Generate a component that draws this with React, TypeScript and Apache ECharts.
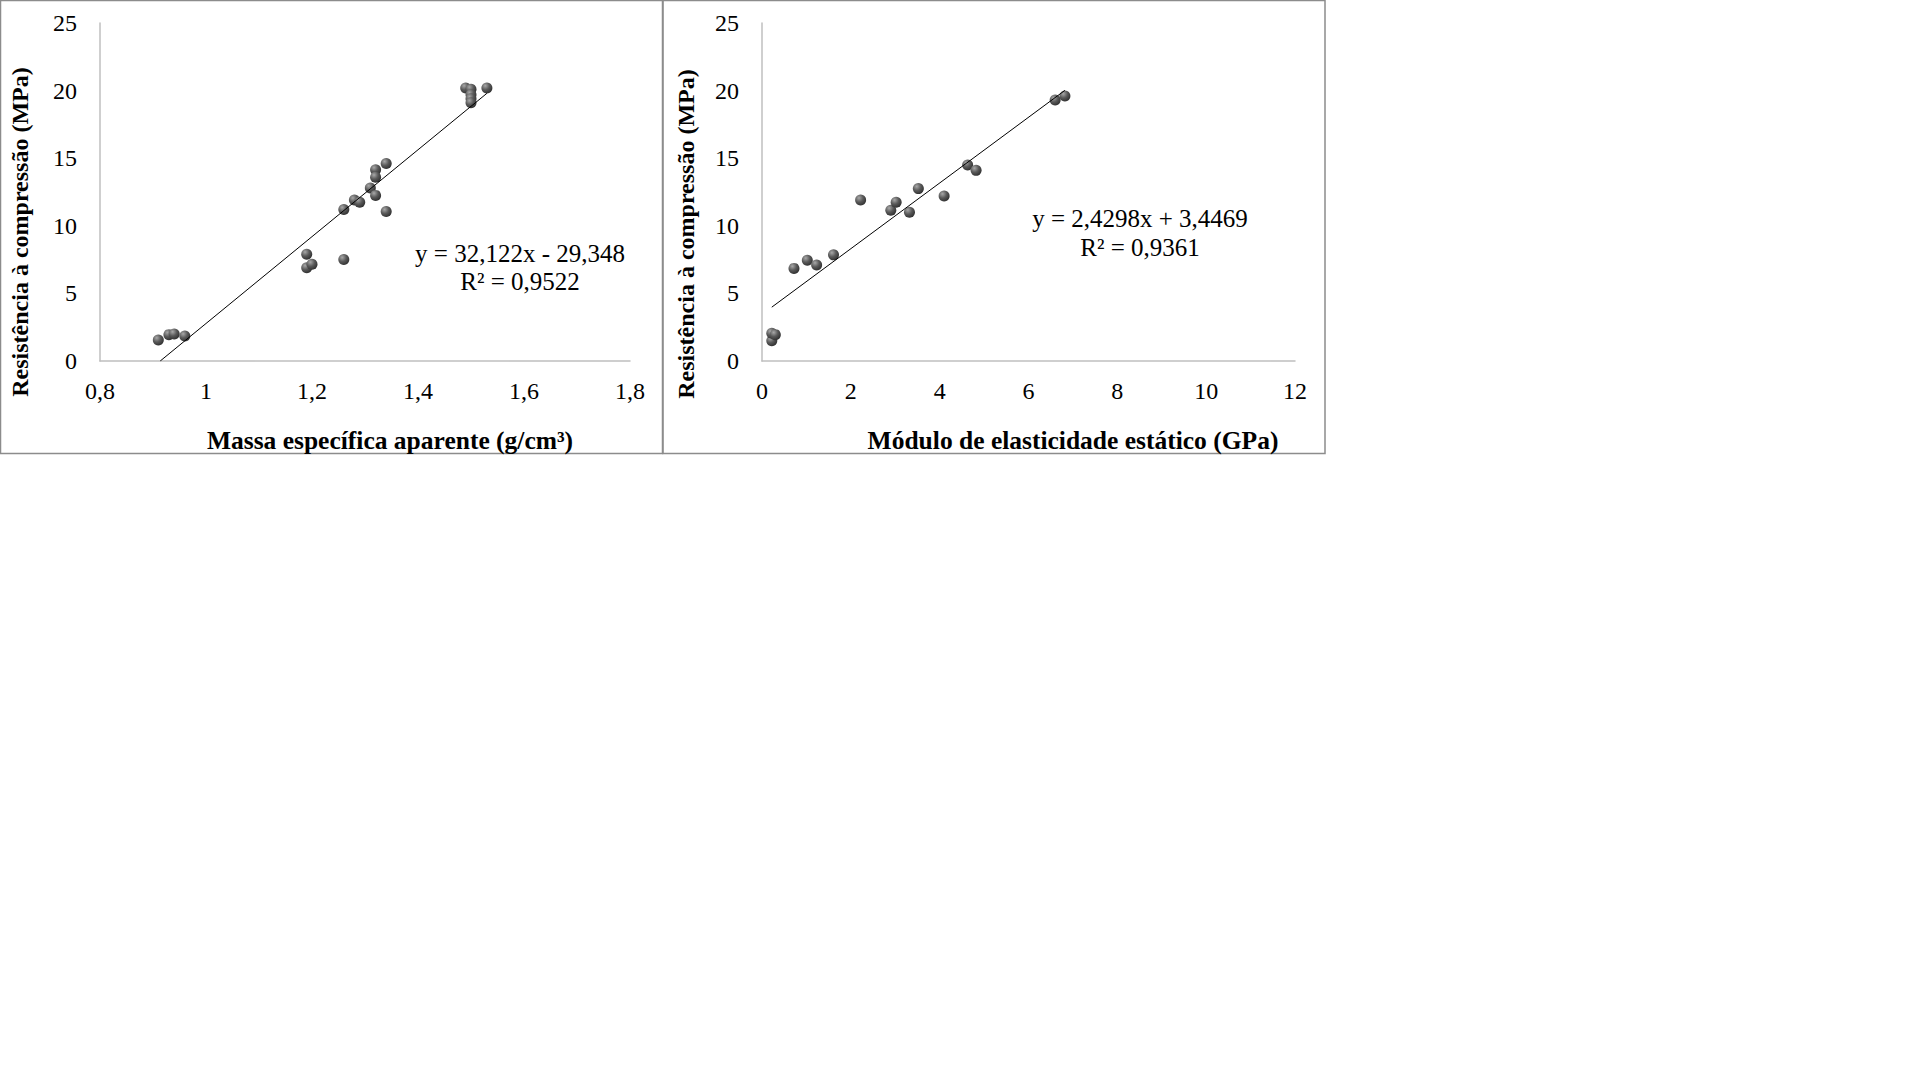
import React, { useEffect, useRef } from "react";
import * as echarts from "echarts";

// Left chart: density vs compressive strength
const densityX = [0.91, 0.93, 0.94, 0.96, 1.19, 1.19, 1.2, 1.26, 1.26, 1.28, 1.29, 1.31, 1.32, 1.32, 1.32, 1.34, 1.34, 1.49, 1.5, 1.5, 1.5, 1.5, 1.53];
const densityY = [1.55, 1.95, 2.0, 1.85, 7.9, 6.9, 7.15, 7.5, 11.2, 11.9, 11.75, 12.8, 14.15, 13.6, 12.25, 14.6, 11.05, 20.2, 20.1, 19.7, 19.4, 19.1, 20.2];
const densitySlope = 32.122;
const densityIntercept = -29.348;

// Right chart: static modulus vs compressive strength
const modulusX = [0.22, 0.22, 0.3, 0.72, 1.02, 1.23, 1.61, 2.22, 2.9, 3.02, 3.32, 3.52, 4.1, 4.63, 4.82, 6.6, 6.82];
const modulusY = [1.5, 2.05, 1.95, 6.85, 7.45, 7.1, 7.85, 11.9, 11.15, 11.75, 11.0, 12.75, 12.2, 14.5, 14.1, 19.3, 19.6];
const modulusSlope = 2.4298;
const modulusIntercept = 3.4469;

const yTitle = "Resistência à compressão (MPa)";
const xTitleLeft = "Massa específica aparente (g/cm³)";
const xTitleRight = "Módulo de elasticidade estático (GPa)";
const eqLeft = ["y = 32,122x - 29,348", "R² = 0,9522"];
const eqRight = ["y = 2,4298x + 3,4469", "R² = 0,9361"];

const FONT = "Liberation Serif";

function trend(xs: number[], a: number, b: number, yMin: number) {
  let x0 = Math.min(...xs);
  const x1 = Math.max(...xs);
  if (a * x0 + b < yMin) x0 = (yMin - b) / a;
  return [
    [x0, a * x0 + b],
    [x1, a * x1 + b],
  ];
}

const fmt = (v: number) => String(+v.toFixed(1)).replace(".", ",");

export default function App() {
  const ref = useRef<HTMLDivElement>(null);
  useEffect(() => {
    document.body.style.margin = "0";
    const chart = echarts.init(ref.current!, undefined, { renderer: "svg" });
    const sphere = {
      type: "radial",
      x: 0.35,
      y: 0.3,
      r: 0.75,
      colorStops: [
        { offset: 0, color: "#a8a8a8" },
        { offset: 0.5, color: "#5a5a5a" },
        { offset: 1, color: "#2e2e2e" },
      ],
    };
    const axisLineStyle = { show: true, onZero: false, lineStyle: { color: "#bfbfbf", width: 1.5 } };
    const labelStyle = { color: "#000", fontFamily: FONT, fontSize: 24, fontWeight: "normal" };
    const xAxisCommon = {
      type: "value",
      axisLine: axisLineStyle,
      axisTick: { show: false },
      splitLine: { show: false },
      axisLabel: { ...labelStyle, margin: 18, formatter: fmt },
    };
    const yAxisCommon = {
      type: "value",
      min: 0,
      max: 25,
      interval: 5,
      axisLine: axisLineStyle,
      axisTick: { show: false },
      splitLine: { show: false },
      axisLabel: { ...labelStyle, margin: 23 },
    };
    const textEl = (x: number, y: number, text: string, bold: boolean, size: number, rotation = 0) => ({
      type: "text",
      x,
      y,
      rotation,
      style: {
        text,
        fill: "#000",
        fontFamily: FONT,
        fontSize: size,
        fontWeight: bold ? "bold" : "normal",
        textAlign: "center",
        textVerticalAlign: "middle",
      },
    });
    chart.setOption({
      animation: false,
      backgroundColor: "#fff",
      textStyle: { fontFamily: FONT },
      grid: [
        { left: 100, top: 23, width: 530, height: 338 },
        { left: 762, top: 23, width: 533, height: 338 },
      ],
      xAxis: [
        { ...xAxisCommon, gridIndex: 0, min: 0.8, max: 1.8, interval: 0.2 },
        { ...xAxisCommon, gridIndex: 1, min: 0, max: 12, interval: 2 },
      ],
      yAxis: [
        { ...yAxisCommon, gridIndex: 0 },
        { ...yAxisCommon, gridIndex: 1 },
      ],
      series: [
        {
          type: "line",
          xAxisIndex: 0,
          yAxisIndex: 0,
          data: trend(densityX, densitySlope, densityIntercept, 0),
          symbol: "none",
          lineStyle: { color: "#000", width: 1 },
          silent: true,
        },
        {
          type: "scatter",
          xAxisIndex: 0,
          yAxisIndex: 0,
          data: densityX.map((x, i) => [x, densityY[i]]),
          symbolSize: 11,
          itemStyle: { color: sphere, opacity: 1 },
        },
        {
          type: "line",
          xAxisIndex: 1,
          yAxisIndex: 1,
          data: trend(modulusX, modulusSlope, modulusIntercept, 0),
          symbol: "none",
          lineStyle: { color: "#000", width: 1 },
          silent: true,
        },
        {
          type: "scatter",
          xAxisIndex: 1,
          yAxisIndex: 1,
          data: modulusX.map((x, i) => [x, modulusY[i]]),
          symbolSize: 11,
          itemStyle: { color: sphere, opacity: 1 },
        },
      ],
      graphic: [
        { type: "rect", shape: { x: 0.5, y: 0.5, width: 662, height: 453 }, style: { fill: "none", stroke: "#8c8c8c", lineWidth: 1.5 } },
        { type: "rect", shape: { x: 663, y: 0.5, width: 662, height: 453 }, style: { fill: "none", stroke: "#8c8c8c", lineWidth: 1.5 } },
        textEl(20, 232, yTitle, true, 24, Math.PI / 2),
        textEl(686, 234, yTitle, true, 24, Math.PI / 2),
        textEl(390, 440, xTitleLeft, true, 25.5),
        textEl(1073, 440, xTitleRight, true, 25.5),
        textEl(520, 253, eqLeft[0], false, 25),
        textEl(520, 281, eqLeft[1], false, 25),
        textEl(1140, 218, eqRight[0], false, 25),
        textEl(1140, 247, eqRight[1], false, 25),
      ],
    });
    return () => chart.dispose();
  }, []);
  return <div ref={ref} style={{ position: "absolute", left: 0, top: 0, width: 1920, height: 1080 }} />;
}
